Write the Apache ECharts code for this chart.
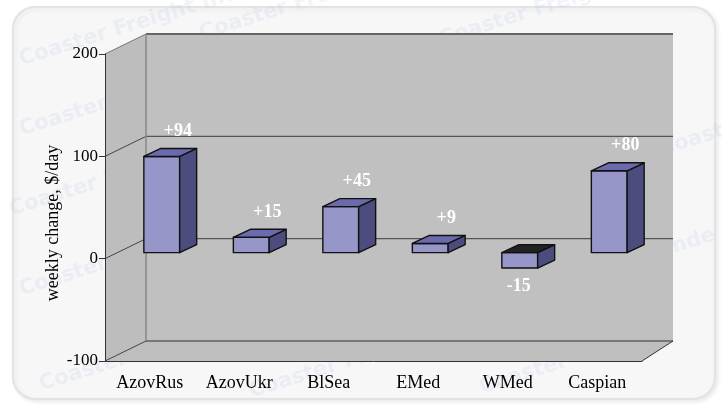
<!DOCTYPE html>
<html>
<head>
<meta charset="utf-8">
<script src="https://cdn.jsdelivr.net/npm/echarts@6/dist/echarts.min.js"></script>
<style>
html, body { margin: 0; padding: 0; background: #fff; }
#main { width: 722px; height: 406px; }
</style>
</head>
<body>
<div id="main"></div>
<script>
var categories = ['AzovRus', 'AzovUkr', 'BlSea', 'EMed', 'WMed', 'Caspian'];
var changes = [94, 15, 45, 9, -15, 80];
var yTicks = [-100, 0, 100, 200];

(function(){
	var myChart = echarts.init(document.getElementById('main'));
	var serif = '"Liberation Serif", "DejaVu Serif", serif';

	// depth of the 3d box (back wall is a bit narrower on the right)
	var DXL = 41, DXR = 31, DY = -20;

	function renderWalls(params, api) {
		var r = params.coordSys;
		var x0 = r.x, x1 = r.x + r.width;
		var yTop = api.coord([0, yTicks[yTicks.length - 1]])[1];
		var yBot = api.coord([0, yTicks[0]])[1];
		var bx0 = x0 + DXL, bx1 = x1 + DXR;
		var kids = [];
		// back wall
		kids.push({ type: 'rect', shape: { x: bx0, y: yTop + DY, width: bx1 - bx0, height: yBot - yTop },
			style: { fill: '#c0c0c0' } });
		// left side wall
		kids.push({ type: 'polygon', shape: { points: [[x0, yTop], [bx0, yTop + DY], [bx0, yBot + DY], [x0, yBot]] },
			style: { fill: '#bdbdbd' } });
		// floor
		kids.push({ type: 'polygon', shape: { points: [[x0, yBot], [bx0, yBot + DY], [bx1, yBot + DY], [x1, yBot]] },
			style: { fill: '#bebebe' } });
		// gridlines on back wall + slanted lines on side wall
		yTicks.forEach(function (v) {
			var y = api.coord([0, v])[1];
			if (v !== yTicks[0] && v !== yTicks[yTicks.length - 1]) {
				kids.push({ type: 'line', shape: { x1: bx0, y1: y + DY, x2: bx1, y2: y + DY },
					style: { stroke: '#555', lineWidth: 1.3 } });
			}
			kids.push({ type: 'line', shape: { x1: x0, y1: y, x2: bx0, y2: y + DY },
				style: { stroke: v === yTicks[yTicks.length - 1] ? '#777' : '#444', lineWidth: 1 } });
		});
		// back wall edges
		kids.push({ type: 'line', shape: { x1: bx0, y1: yTop + DY, x2: bx1, y2: yTop + DY },
			style: { stroke: '#666', lineWidth: 2 } });
		kids.push({ type: 'line', shape: { x1: bx0, y1: yTop + DY, x2: bx0, y2: yBot + DY },
			style: { stroke: '#888', lineWidth: 1.5 } });
		kids.push({ type: 'line', shape: { x1: bx0, y1: yBot + DY, x2: bx1, y2: yBot + DY },
			style: { stroke: '#777', lineWidth: 2 } });
		kids.push({ type: 'line', shape: { x1: x1, y1: yBot, x2: bx1, y2: yBot + DY },
			style: { stroke: '#333', lineWidth: 1 } });
		return { type: 'group', children: kids };
	}

	function renderBar(params, api) {
		var i = api.value(0), v = api.value(1);
		var base = api.coord([i, 0]), end = api.coord([i, v]);
		var w = api.size([1, 0])[0] * 0.4;
		var ox = 12, oy = -6, dx = 17, dy = -8;
		var xl = base[0] - w / 2 + ox, xr = xl + w;
		var yT = Math.min(base[1], end[1]) + oy, yB = Math.max(base[1], end[1]) + oy;
		var line = { stroke: '#111', lineWidth: 1.4, lineJoin: 'round' };
		var kids = [
			{ type: 'rect', shape: { x: xl, y: yT, width: w, height: yB - yT },
				style: Object.assign({ fill: '#9696c8' }, line) },
			{ type: 'polygon', shape: { points: [[xr, yT], [xr + dx, yT + dy], [xr + dx, yB + dy], [xr, yB]] },
				style: Object.assign({ fill: '#4c4c7e' }, line) },
			{ type: 'polygon', shape: { points: [[xl, yT], [xr, yT], [xr + dx, yT + dy], [xl + dx, yT + dy]] },
				style: Object.assign({ fill: v < 0 ? '#222' : '#6a6aac' }, line) }
		];
		var cx = xl + w / 2;
		kids.push({
			type: 'text',
			x: v < 0 ? cx - 1 : cx + 16,
			y: v < 0 ? yB + 18 : yT - 25,
			style: {
				text: (v > 0 ? '+' : '') + v,
				fill: '#fff', fontFamily: serif, fontSize: 18, fontWeight: 'bold',
				align: 'center', verticalAlign: 'middle'
			}
		});
		return { type: 'group', children: kids };
	}

	// faint watermark texts on the panel
	var marks = [];
	var spots = [[20, 60, 'Coaster Freight Index'], [200, 34, 'Coaster Freight Index'],
		[440, 40, 'Coaster Freight'], [20, 130, 'Coaster Freight Index'], [10, 210, 'Coaster Freight Index'],
		[20, 290, 'Coaster Freight Index'], [40, 385, 'Coaster Freight Index'], [250, 392, 'Coaster Freight Index'],
		[480, 388, 'Coaster Freight'], [580, 330, 'Coaster'], [660, 150, 'Coast'], [665, 250, 'Inde']];
	spots.forEach(function (p) {
		marks.push({
			type: 'text', z: -9, x: p[0], y: p[1], rotation: 0.3,
			style: { text: p[2], fill: 'rgba(185,200,230,0.2)',
				font: 'bold 21px "DejaVu Sans", sans-serif', verticalAlign: 'middle' }
		});
	});

	var option = {
		animation: false,
		backgroundColor: '#ffffff',
		graphic: [
			{ type: 'rect', z: -10, shape: { x: 13, y: 7, width: 702, height: 392, r: 22 },
				style: { fill: '#f7f7f8', stroke: '#e3e3e3', lineWidth: 2,
					shadowBlur: 4, shadowColor: 'rgba(0,0,0,0.08)', shadowOffsetX: 2, shadowOffsetY: 2 } },
			{ type: 'group', z: -9, children: marks },
			{ type: 'text', z: 10, x: 53, y: 223, rotation: Math.PI / 2,
				style: { text: 'weekly change, $/day', fill: '#000', fontFamily: serif, fontSize: 18,
					align: 'center', verticalAlign: 'middle' } }
		],
		grid: { left: 105, right: 80, top: 54, bottom: 45 },
		xAxis: {
			type: 'category',
			data: categories,
			z: 5,
			axisLine: { show: true, onZero: false, lineStyle: { color: '#333', width: 1 } },
			axisTick: { show: false },
			axisLabel: { color: '#000', fontFamily: serif, fontSize: 18, margin: 13 }
		},
		yAxis: {
			type: 'value',
			min: -100, max: 200, interval: 100,
			z: 5,
			axisLine: { show: true, lineStyle: { color: '#333', width: 1 } },
			axisTick: { show: true, length: 6, lineStyle: { color: '#333' } },
			splitLine: { show: false },
			axisLabel: { color: '#000', fontFamily: serif, fontSize: 17, margin: 7 }
		},
		series: [
			{ type: 'custom', z: 1, silent: true, renderItem: renderWalls, data: [[0, 0]] },
			{ type: 'custom', z: 6, silent: true, renderItem: renderBar,
				data: changes.map(function (v, i) { return [i, v]; }) }
		]
	};
	myChart.setOption(option);
	window.addEventListener("resize", function() {
		myChart.resize();
	});
})();
</script>
</body>
</html>
